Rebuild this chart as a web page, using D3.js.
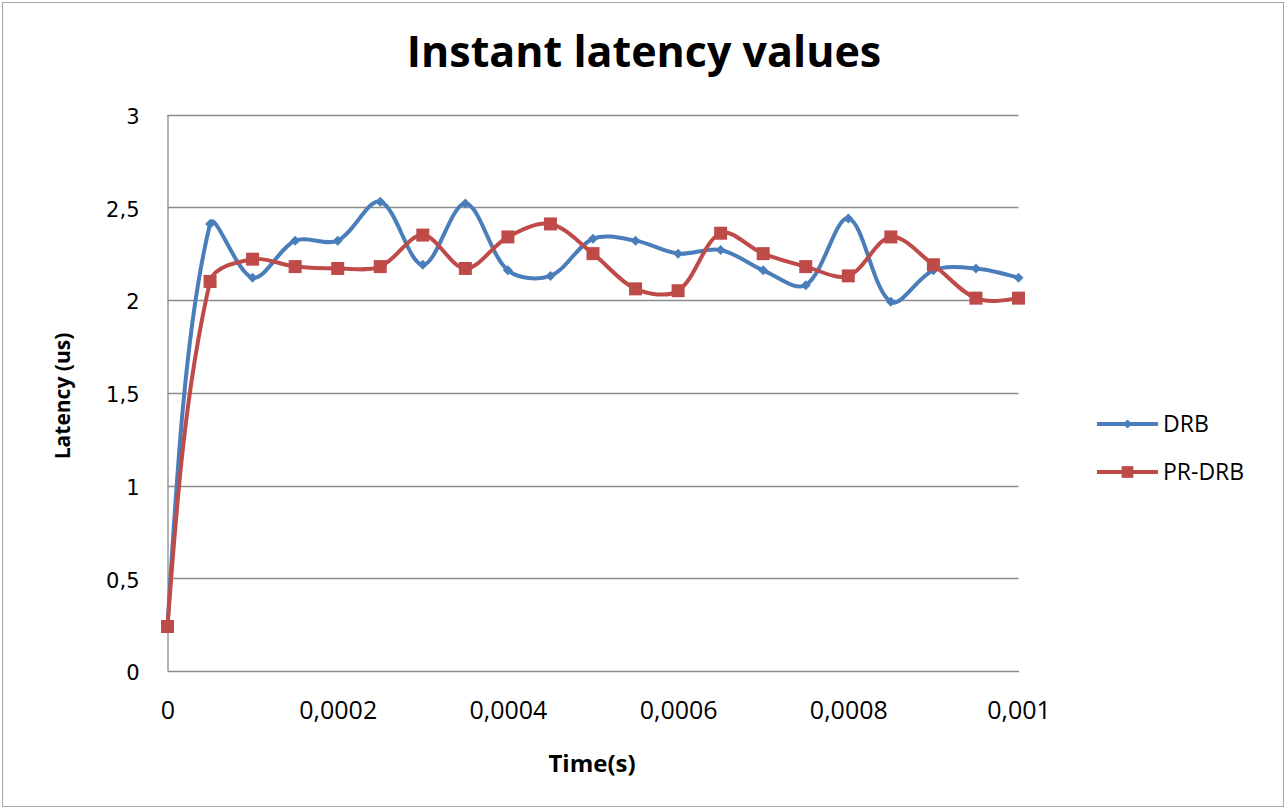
<!DOCTYPE html>
<html>
<head>
<meta charset="utf-8">
<script src="https://cdn.jsdelivr.net/npm/d3@7"></script>
<style>
  html, body { margin: 0; padding: 0; background: #fff; }
  svg { display: block; }
</style>
</head>
<body>
<svg id="chart" width="1286" height="809"></svg>
<script>
// Sample times (seconds)
const times = [0, 0.00005, 0.0001, 0.00015, 0.0002, 0.00025, 0.0003, 0.00035, 0.0004, 0.00045,
  0.0005, 0.00055, 0.0006, 0.00065, 0.0007, 0.00075, 0.0008, 0.00085, 0.0009, 0.00095, 0.001];

// Latency in microseconds
const drb = [0.24, 2.41, 2.12, 2.32, 2.32, 2.53, 2.19, 2.52, 2.16, 2.13,
  2.33, 2.32, 2.25, 2.27, 2.16, 2.08, 2.44, 1.99, 2.16, 2.17, 2.12];
const prDrb = [0.24, 2.10, 2.22, 2.18, 2.17, 2.18, 2.35, 2.17, 2.34, 2.41,
  2.25, 2.06, 2.05, 2.36, 2.25, 2.18, 2.13, 2.34, 2.19, 2.01, 2.01];

const seriesNames = ["DRB", "PR-DRB"];
const yTicks = [0, 0.5, 1, 1.5, 2, 2.5, 3];
const xTicks = [0, 0.0002, 0.0004, 0.0006, 0.0008, 0.001];
const xTickLabels = ["0", "0,0002", "0,0004", "0,0006", "0,0008", "0,001"];
const yTickLabels = ["0", "0,5", "1", "1,5", "2", "2,5", "3"];

const blue = "#4a7ebb";
const red = "#be4b48";

const svg = d3.select("#chart");
const W = 1286, H = 809;
const plot = { left: 167.5, right: 1018.5, top: 114.5, bottom: 671 };

// outer frame
svg.append("rect")
  .attr("x", 2.5).attr("y", 2.5)
  .attr("width", W - 5).attr("height", H - 5)
  .attr("fill", "#fff").attr("stroke", "#a6a6a6").attr("stroke-width", 1);

const x = d3.scaleLinear().domain([0, 0.001]).range([plot.left, plot.right]);
const y = d3.scaleLinear().domain([0, 3]).range([plot.bottom, plot.top]);

// horizontal gridlines
svg.append("g")
  .selectAll("line")
  .data(yTicks.filter(d => d > 0))
  .join("line")
  .attr("x1", plot.left).attr("x2", plot.right)
  .attr("y1", d => Math.round(y(d)) + 0.5).attr("y2", d => Math.round(y(d)) + 0.5)
  .attr("stroke", "#8c8c8c").attr("stroke-width", 1.3);

// y axis
const yAxis = d3.axisLeft(y)
  .tickValues(yTicks)
  .tickFormat((d, i) => yTickLabels[i])
  .tickSize(0)
  .tickPadding(28);
const gy = svg.append("g").attr("transform", `translate(${plot.left},0)`).call(yAxis);
gy.select(".domain").attr("stroke", "#8c8c8c").attr("stroke-width", 1.3);
gy.selectAll("text")
  .attr("font-family", "DejaVu Sans, Verdana, sans-serif")
  .attr("font-size", 21)
  .attr("fill", "#000")
  .attr("dy", "0.42em");

// x axis
const xAxis = d3.axisBottom(x)
  .tickValues(xTicks)
  .tickFormat((d, i) => xTickLabels[i])
  .tickSize(0)
  .tickPadding(30);
const gx = svg.append("g").attr("transform", `translate(0,${plot.bottom})`).call(xAxis);
gx.select(".domain").attr("stroke", "#8c8c8c").attr("stroke-width", 1.3);
gx.selectAll("text")
  .attr("font-family", "'Open Sans', Lato, sans-serif")
  .attr("font-size", 25)
  .attr("fill", "#000");

// title and axis titles
svg.append("text")
  .attr("x", 644).attr("y", 67)
  .attr("text-anchor", "middle")
  .attr("font-family", "'Open Sans', Lato, sans-serif")
  .attr("font-weight", "bold")
  .attr("font-size", 43)
  .attr("fill", "#000")
  .text("Instant latency values");

svg.append("text")
  .attr("x", 592).attr("y", 772)
  .attr("text-anchor", "middle")
  .attr("font-family", "'Open Sans', Lato, sans-serif")
  .attr("font-weight", "bold")
  .attr("font-size", 24)
  .attr("fill", "#000")
  .text("Time(s)");

svg.append("text")
  .attr("transform", "translate(70,396) rotate(-90)")
  .attr("text-anchor", "middle")
  .attr("font-family", "'Open Sans', Lato, sans-serif")
  .attr("font-weight", "bold")
  .attr("font-size", 21)
  .attr("fill", "#000")
  .text("Latency (us)");

// Smoothed path: cubic Bezier through each point, tangent parallel to the
// neighbour chord, arm lengths proportional to the adjacent segment lengths.
function smoothPath(pts) {
  const p = d3.path();
  const n = pts.length;
  const dist = (a, b) => Math.hypot(b[0] - a[0], b[1] - a[1]);
  const ctrl = pts.map((pt, i) => {
    if (i === 0 || i === n - 1) return { inC: pt, outC: pt };
    const a = pts[i - 1], b = pts[i + 1];
    const d1 = dist(a, pt), d2 = dist(pt, b);
    const tx = b[0] - a[0], ty = b[1] - a[1];
    const k1 = d1 / (d1 + d2) / 3, k2 = d2 / (d1 + d2) / 3;
    return {
      inC: [pt[0] - tx * k1, pt[1] - ty * k1],
      outC: [pt[0] + tx * k2, pt[1] + ty * k2]
    };
  });
  // end points aim toward the neighbouring control arm
  ctrl[0].outC = [pts[0][0] + (ctrl[1].inC[0] - pts[0][0]) / 2, pts[0][1] + (ctrl[1].inC[1] - pts[0][1]) / 2];
  ctrl[n - 1].inC = [pts[n - 1][0] + (ctrl[n - 2].outC[0] - pts[n - 1][0]) / 2, pts[n - 1][1] + (ctrl[n - 2].outC[1] - pts[n - 1][1]) / 2];
  p.moveTo(pts[0][0], pts[0][1]);
  for (let i = 1; i < n; i++) {
    const c1 = ctrl[i - 1].outC, c2 = ctrl[i].inC;
    p.bezierCurveTo(c1[0], c1[1], c2[0], c2[1], pts[i][0], pts[i][1]);
  }
  return p.toString();
}

const series = [
  { name: seriesNames[0], values: drb, color: blue, marker: "diamond" },
  { name: seriesNames[1], values: prDrb, color: red, marker: "square" }
];

function drawMarker(g, type, color, cx, cy, scale) {
  if (type === "diamond") {
    const s = 5 * scale;
    g.append("path")
      .attr("d", `M${cx},${cy - s}L${cx + s},${cy}L${cx},${cy + s}L${cx - s},${cy}Z`)
      .attr("fill", color);
  } else {
    const s = 6.5 * scale;
    g.append("rect")
      .attr("x", cx - s).attr("y", cy - s)
      .attr("width", 2 * s).attr("height", 2 * s)
      .attr("fill", color);
  }
}

series.forEach(s => {
  const pts = s.values.map((v, i) => [x(times[i]), y(v)]);
  svg.append("path")
    .attr("d", smoothPath(pts))
    .attr("fill", "none")
    .attr("stroke", s.color)
    .attr("stroke-width", 4)
    .attr("stroke-linejoin", "round")
    .attr("stroke-linecap", "round");
});

series.forEach(s => {
  const g = svg.append("g");
  s.values.forEach((v, i) => drawMarker(g, s.marker, s.color, x(times[i]), y(v), 1));
});

// legend
const legendY = [424, 472];
series.forEach((s, i) => {
  const g = svg.append("g");
  g.append("line")
    .attr("x1", 1097).attr("x2", 1158)
    .attr("y1", legendY[i]).attr("y2", legendY[i])
    .attr("stroke", s.color).attr("stroke-width", 4);
  drawMarker(g, s.marker, s.color, 1127.5, legendY[i], 0.9);
  g.append("text")
    .attr("x", 1163).attr("y", legendY[i] + 8)
    .attr("font-family", "'Open Sans', Lato, sans-serif")
    .attr("font-size", 23)
    .attr("fill", "#000")
    .text(s.name);
});
</script>
</body>
</html>
